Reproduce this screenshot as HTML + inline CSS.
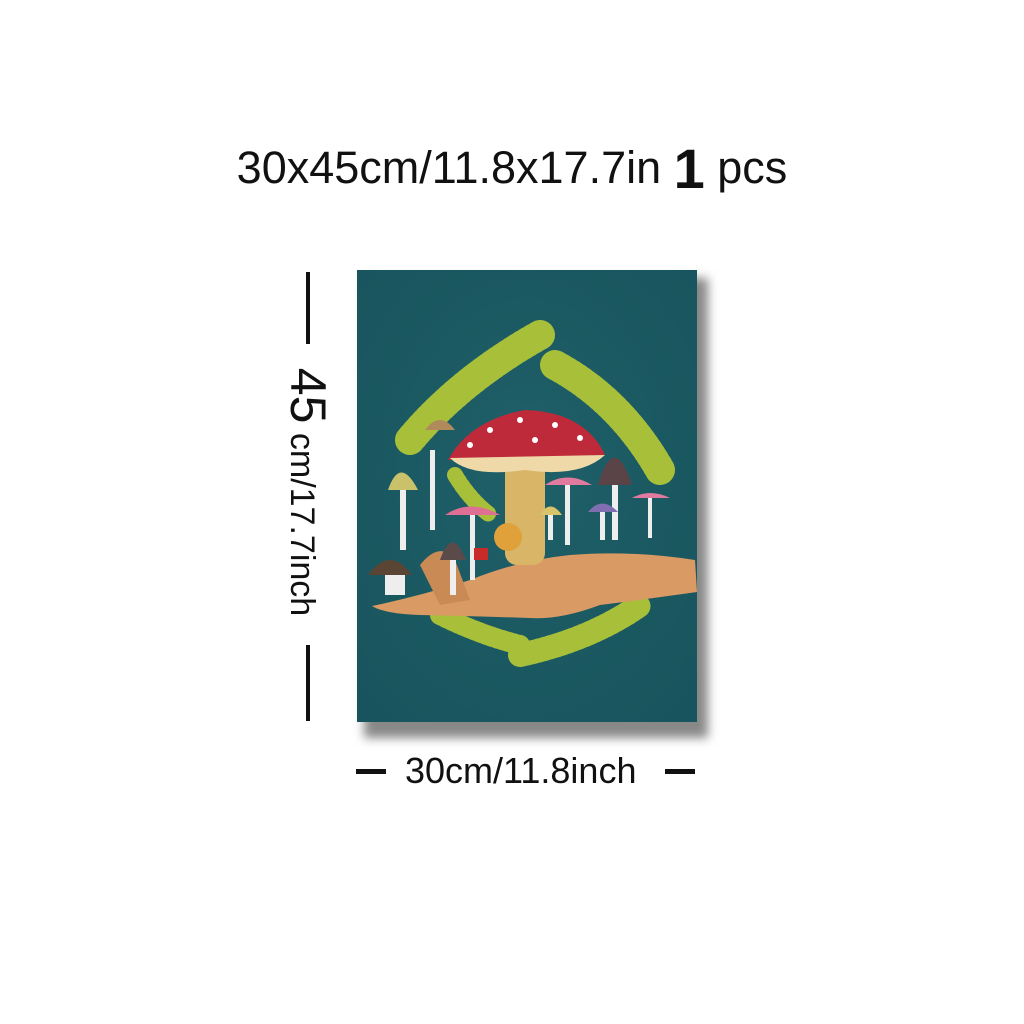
<!DOCTYPE html>
<html><head><meta charset="utf-8"><style>
html,body{margin:0;padding:0;background:#fff;}
#root{position:relative;width:1024px;height:1024px;overflow:hidden;font-family:"Liberation Sans",sans-serif;color:#111;}
.title{position:absolute;left:0;width:1024px;top:136px;text-align:center;font-size:45px;white-space:nowrap;}
.title .one{font-size:56px;font-weight:bold;vertical-align:-5px;}
.vline{position:absolute;left:306px;width:4px;background:#111;}
.vtext{position:absolute;left:308px;top:492px;transform:translate(-50%,-50%) rotate(90deg);white-space:nowrap;font-size:34px;}
.vtext .big{font-size:50px;}
.hdash{position:absolute;top:769px;height:5px;background:#111;}
.htext{position:absolute;left:405px;top:750px;font-size:36px;white-space:nowrap;}
</style></head><body>
<div id="root">
<div class="title">30x45cm/11.8x17.7in <span class="one">1</span> pcs</div>

<div class="vline" style="top:272px;height:72px"></div>
<div class="vtext"><span class="big">45</span> cm/17.7inch</div>
<div class="vline" style="top:645px;height:76px"></div>

<div class="hdash" style="left:356px;width:30px"></div>
<div class="htext">30cm/11.8inch</div>
<div class="hdash" style="left:665px;width:30px"></div>

<svg style="position:absolute;left:0;top:0" width="1024" height="1024">
<defs>
<filter id="sh" x="-10%" y="-10%" width="130%" height="130%"><feGaussianBlur stdDeviation="5"/></filter>
<radialGradient id="bg" cx="0.5" cy="0.45" r="0.7"><stop offset="0" stop-color="#1f6068"/><stop offset="1" stop-color="#18545d"/></radialGradient>
</defs>
<rect x="364" y="278" width="344" height="460" fill="#888" filter="url(#sh)"/>
<rect x="357" y="270" width="340" height="452" fill="url(#bg)"/>
<g stroke="#a8bf3a" stroke-linecap="round" fill="none">
<path d="M540 335 Q460 380 410 440" stroke-dasharray="3 3" stroke-width="30"/>
<path d="M555 365 Q620 400 660 470" stroke-dasharray="3 3" stroke-width="30"/>
<path d="M440 615 Q480 635 520 645" stroke-dasharray="3 3" stroke-width="20"/>
<path d="M520 655 Q590 640 640 605" stroke-dasharray="3 3" stroke-width="24"/>
<path d="M455 475 Q470 500 490 515" stroke-dasharray="3 3" stroke-width="16"/>
</g>
<path d="M372 606 Q420 596 470 580 Q520 560 570 555 Q630 550 695 560 L697 592 Q640 600 600 605 Q560 620 530 618 Q470 616 420 615 Q385 614 372 606Z" fill="#d99a63"/>
<path d="M420 565 Q440 540 455 560 L470 600 L440 605Z" fill="#c98a55"/>
<rect x="505" y="455" width="40" height="110" rx="12" fill="#d8b567"/>
<path d="M448 460 Q470 420 525 410 Q585 412 605 455 Z" fill="#bf2a3b"/>
<path d="M450 458 L605 455 Q580 478 525 470 Q470 478 450 458Z" fill="#efd9a8"/>
<g fill="#fff"><circle cx="490" cy="430" r="3"/><circle cx="520" cy="420" r="3"/><circle cx="555" cy="425" r="3"/><circle cx="580" cy="438" r="3"/><circle cx="470" cy="445" r="3"/><circle cx="535" cy="440" r="3"/></g>
<g>
<rect x="400" y="490" width="6" height="60" fill="#eee"/><path d="M388 490 Q400 455 418 490Z" fill="#c9c26a"/>
<rect x="430" y="450" width="5" height="80" fill="#eee"/><path d="M425 430 Q440 410 455 430Z" fill="#b08a5a"/>
<rect x="450" y="555" width="6" height="40" fill="#eee"/><path d="M440 560 Q452 525 466 560Z" fill="#5a4a4a"/>
<rect x="385" y="570" width="20" height="25" fill="#eee"/><path d="M368 575 Q390 545 412 575Z" fill="#5a4535"/>
<rect x="470" y="510" width="5" height="70" fill="#eee"/><path d="M445 515 Q470 498 500 515Z" fill="#e06f95"/>
<rect x="565" y="485" width="5" height="60" fill="#eee"/><path d="M545 485 Q567 470 592 485Z" fill="#e07a9e"/>
<rect x="612" y="480" width="6" height="60" fill="#eee"/><path d="M598 485 Q614 430 632 485Z" fill="#5a4448"/>
<rect x="648" y="498" width="4" height="40" fill="#eee"/><path d="M632 498 Q650 488 670 498Z" fill="#e07a9e"/>
<rect x="600" y="510" width="5" height="30" fill="#eee"/><path d="M588 512 Q602 495 618 512Z" fill="#7f6fb0"/>
<rect x="548" y="510" width="5" height="30" fill="#eee"/><path d="M540 515 Q550 498 562 515Z" fill="#d8c46a"/>
<circle cx="508" cy="537" r="14" fill="#e0a03a"/><rect x="474" y="548" width="14" height="12" fill="#c92a2a"/>
</g>
</svg>
</div>
</body></html>
